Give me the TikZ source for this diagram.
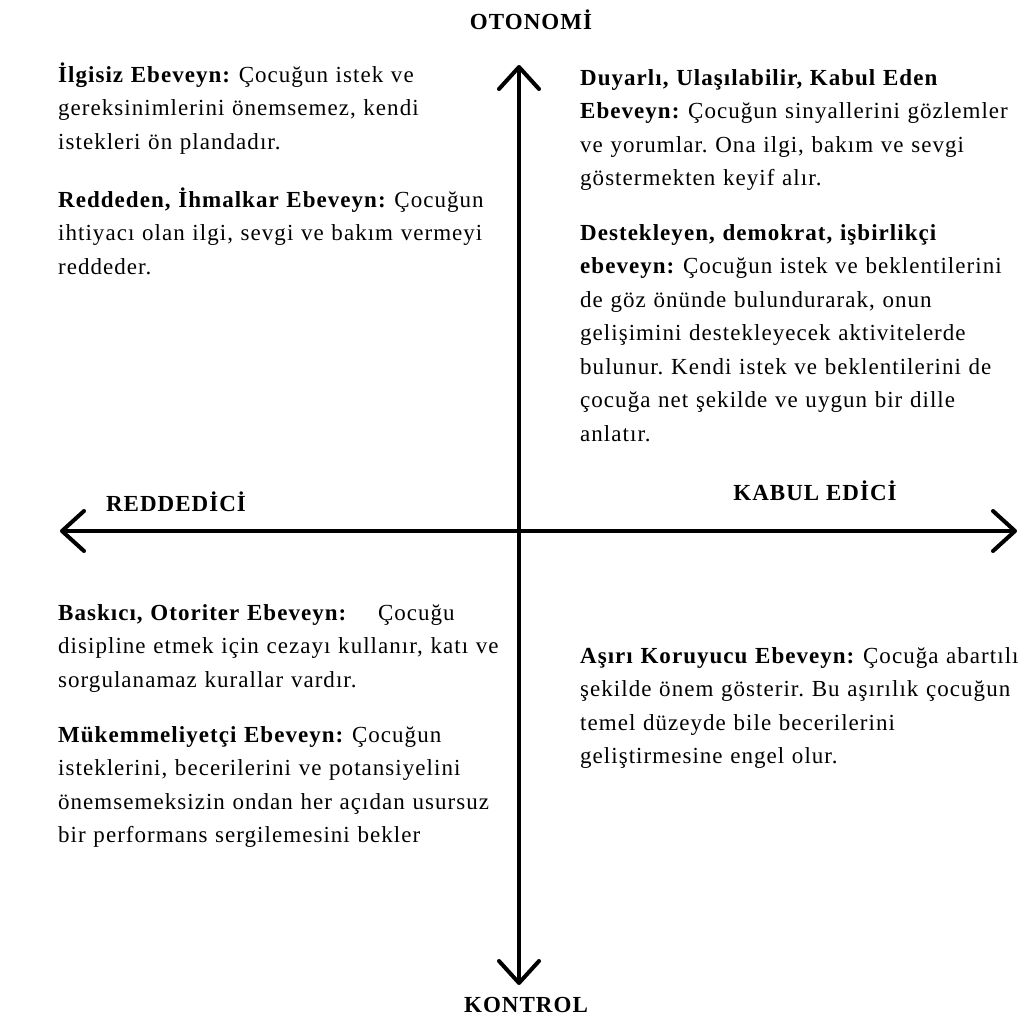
\documentclass[tikz,border=0pt]{standalone}
\usepackage{fontspec}
\setmainfont{Liberation Serif}[LetterSpace=4.5]
\usetikzlibrary{arrows.meta}
\frenchspacing
\tikzstyle{axis} = [draw,line width=4pt,<->,>={Straight Barb[round,length=22pt,width=40pt]}]
\tikzstyle{pole} = [font=\fontsize{23}{27}\selectfont\bfseries,inner sep=0pt,anchor=base]
\tikzstyle{parag} = [font=\fontsize{23}{33.5}\selectfont,inner sep=0pt,anchor=base west,align=left,text width=445pt]

\begin{document}
\begin{tikzpicture}[x=1pt,y=-1pt]
				\useasboundingbox (0,0) rectangle (1027,1021);

				% First we draw the two axes
				\coordinate (top) at (519,65);
				\coordinate (bottom) at (519,985);
				\coordinate (left) at (60,531);
				\coordinate (right) at (1017,531);
				\path[axis] (bottom) -- (top);
				\path[axis] (left) -- (right);

				% Names of the poles
				\foreach \pos/\name/\lbl in {{(531,29)/oto/OTONOMİ}, {(526,1012)/kon/KONTROL}, {(176,511)/red/REDDEDİCİ}, {(815,500)/kab/KABUL EDİCİ}}
				\node[pole] (\name) at \pos {\lbl};

				% Parent types, one node per paragraph
				\node[parag] (ilgisiz) at (58,82) {\textbf{İlgisiz Ebeveyn:} Çocuğun istek ve\\ gereksinimlerini önemsemez, kendi\\ istekleri ön plandadır.};
				\node[parag] (ihmalkar) at (58,207) {\textbf{Reddeden, İhmalkar Ebeveyn:} Çocuğun\\ ihtiyacı olan ilgi, sevgi ve bakım vermeyi\\ reddeder.};
				\node[parag] (duyarli) at (580,85) {\textbf{Duyarlı, Ulaşılabilir, Kabul Eden}\\ \textbf{Ebeveyn:} Çocuğun sinyallerini gözlemler\\ ve yorumlar. Ona ilgi, bakım ve sevgi\\ göstermekten keyif alır.};
				\node[parag] (destek) at (580,240) {\textbf{Destekleyen, demokrat, işbirlikçi}\\ \textbf{ebeveyn:} Çocuğun istek ve beklentilerini\\ de göz önünde bulundurarak, onun\\ gelişimini destekleyecek aktivitelerde\\ bulunur. Kendi istek ve beklentilerini de\\ çocuğa net şekilde ve uygun bir dille\\ anlatır.};
				\node[parag] (otoriter) at (58,620) {\textbf{Baskıcı, Otoriter Ebeveyn:}\hspace{1em} Çocuğu\\ disipline etmek için cezayı kullanır, katı ve\\ sorgulanamaz kurallar vardır.};
				\node[parag] (mukemmel) at (58,742) {\textbf{Mükemmeliyetçi Ebeveyn:} Çocuğun\\ isteklerini, becerilerini ve potansiyelini\\ önemsemeksizin ondan her açıdan usursuz\\ bir performans sergilemesini bekler};
				\node[parag] (koruyucu) at (580,663) {\textbf{Aşırı Koruyucu Ebeveyn:} Çocuğa abartılı\\ şekilde önem gösterir. Bu aşırılık çocuğun\\ temel düzeyde bile becerilerini\\ geliştirmesine engel olur.};
			\end{tikzpicture}
\end{document}
